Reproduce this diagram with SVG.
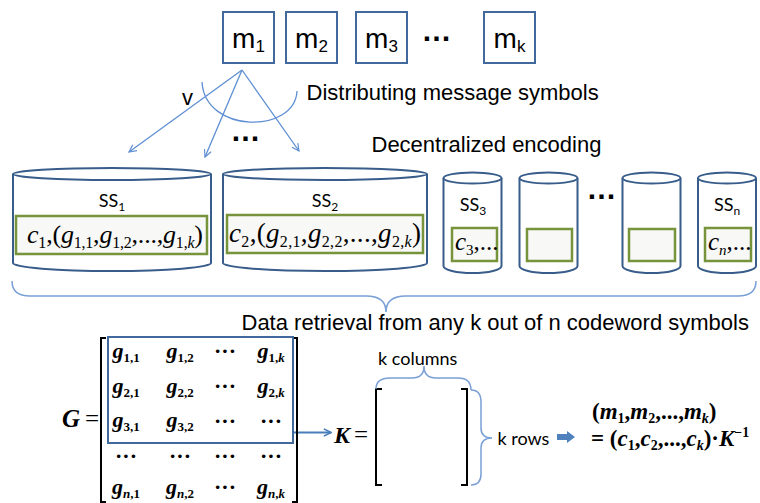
<svg xmlns="http://www.w3.org/2000/svg" width="760" height="503" viewBox="0 0 760 503">
  <style>
    .box { fill: #fff; stroke: #41699b; stroke-width: 2; }
    .cyl { fill: #fff; stroke: #385d8a; stroke-width: 2; }
    .slot { fill: #f8f8f6; stroke: #77933c; stroke-width: 2.5; }
    .link { fill: none; stroke: #5f8fd3; stroke-width: 1.3; }
    .brace { fill: none; stroke: #7aa0d6; stroke-width: 1.5; }
    .bracket { fill: none; stroke: #000; stroke-width: 2; }
    .sans { font-family: "Liberation Sans", Arial, sans-serif; fill: #000; }
    .cal { font-family: Lato, "Open Sans", sans-serif; fill: #000; }
    .math { font-family: "Liberation Serif", "Times New Roman", serif; fill: #000; }
    .it { font-style: italic; }
    .b { font-weight: bold; }
    .dots { font-family: "Liberation Sans", Arial, sans-serif; font-size: 30px; font-weight: bold; }
  </style>
  <defs>
    <marker id="open" viewBox="0 0 10 10" refX="9" refY="5" markerWidth="9" markerHeight="9" orient="auto" markerUnits="userSpaceOnUse">
      <path d="M1,1 L9,5 L1,9" fill="none" stroke="#5f8fd3" stroke-width="1.3"/>
    </marker>
    <marker id="openDark" viewBox="0 0 10 10" refX="9" refY="5" markerWidth="9" markerHeight="9" orient="auto" markerUnits="userSpaceOnUse">
      <path d="M1,1 L9,5 L1,9" fill="none" stroke="#4a7ebb" stroke-width="1.8"/>
    </marker>
  </defs>

  <!-- message symbols -->
  <g id="m1"><rect class="box" x="223" y="12" width="51" height="51"/>
    <text class="sans" x="248.5" y="48" font-size="28" text-anchor="middle">m<tspan font-size="17" dy="4">1</tspan></text></g>
  <g id="m2"><rect class="box" x="286" y="12" width="51" height="51"/>
    <text class="sans" x="311.5" y="48" font-size="28" text-anchor="middle">m<tspan font-size="17" dy="4">2</tspan></text></g>
  <g id="m3"><rect class="box" x="356" y="12" width="51" height="51"/>
    <text class="sans" x="381.5" y="48" font-size="28" text-anchor="middle">m<tspan font-size="17" dy="4">3</tspan></text></g>
  <text class="dots" x="421.6" y="40.5">…</text>
  <g id="mk"><rect class="box" x="484" y="12" width="51" height="51"/>
    <text class="sans" x="509.5" y="48" font-size="28" text-anchor="middle">m<tspan font-size="17" dy="4">k</tspan></text></g>

  <text class="sans" x="306.5" y="100" font-size="22">Distributing message symbols</text>
  <text class="sans" x="371.5" y="152" font-size="22">Decentralized encoding</text>
  <text class="sans" x="182" y="105" font-size="22">v</text>
  <text class="dots" x="230.5" y="141">…</text>

  <!-- distribution connectors -->
  <g id="connectors">
    <path class="link" d="M202,82 C205,134 295,134 297,91"/>
    <line class="link" x1="242" y1="70" x2="129" y2="152" marker-end="url(#open)"/>
    <line class="link" x1="242" y1="70" x2="205" y2="157" marker-end="url(#open)"/>
    <line class="link" x1="242" y1="70" x2="299" y2="151" marker-end="url(#open)"/>
    <line x1="293" y1="432.5" x2="331" y2="432.5" fill="none" stroke="#4a7ebb" stroke-width="2" marker-end="url(#openDark)"/>
  </g>

  <!-- storage servers -->
  <g id="ss1">
    <path class="cyl" d="M13,174 V263 A99,8 0 0 0 211,263 V174"/>
    <ellipse class="cyl" cx="112" cy="174" rx="99" ry="6"/>
    <text class="cal" x="112" y="207" font-size="18" text-anchor="middle">SS<tspan font-size="12" dy="4">1</tspan></text>
    <rect class="slot" x="16" y="216" width="191" height="38"/>
    <text class="math" x="27" y="243" font-size="26" textLength="176" lengthAdjust="spacing"><tspan class="it">c</tspan><tspan font-size="16" dy="5">1</tspan><tspan dy="-5">,(</tspan><tspan class="it">g</tspan><tspan font-size="16" dy="5">1,1</tspan><tspan dy="-5">,</tspan><tspan class="it">g</tspan><tspan font-size="16" dy="5">1,2</tspan><tspan dy="-5">,...,</tspan><tspan class="it">g</tspan><tspan font-size="16" dy="5">1,</tspan><tspan font-size="16" class="it">k</tspan><tspan dy="-5">)</tspan></text>
  </g>
  <g id="ss2">
    <path class="cyl" d="M223,174 V263 A102,8 0 0 0 427,263 V174"/>
    <ellipse class="cyl" cx="325" cy="174" rx="102" ry="6"/>
    <text class="cal" x="325" y="207" font-size="18" text-anchor="middle">SS<tspan font-size="12" dy="4">2</tspan></text>
    <rect class="slot" x="227" y="215" width="196" height="38"/>
    <text class="math" x="229" y="242" font-size="27" textLength="192" lengthAdjust="spacing"><tspan class="it">c</tspan><tspan font-size="16" dy="5">2</tspan><tspan dy="-5">,(</tspan><tspan class="it">g</tspan><tspan font-size="16" dy="5">2,1</tspan><tspan dy="-5">,</tspan><tspan class="it">g</tspan><tspan font-size="16" dy="5">2,2</tspan><tspan dy="-5">,...,</tspan><tspan class="it">g</tspan><tspan font-size="16" dy="5">2,</tspan><tspan font-size="16" class="it">k</tspan><tspan dy="-5">)</tspan></text>
  </g>
  <g id="ss3">
    <path class="cyl" d="M443.5,178 V266 A29,7 0 0 0 501.5,266 V178"/>
    <ellipse class="cyl" cx="472.5" cy="178" rx="29" ry="5.5"/>
    <text class="cal" x="473" y="211" font-size="18" text-anchor="middle">SS<tspan font-size="12" dy="4">3</tspan></text>
    <rect class="slot" x="452" y="228" width="45" height="33"/>
    <text class="math" x="455" y="250" font-size="25"><tspan class="it">c</tspan><tspan font-size="15" dy="5">3</tspan><tspan dy="-5">,...</tspan></text>
  </g>
  <g id="ss4">
    <path class="cyl" d="M519.5,178 V266 A29,7 0 0 0 577.5,266 V178"/>
    <ellipse class="cyl" cx="548.5" cy="178" rx="29" ry="5.5"/>
    <rect class="slot" x="527" y="229" width="45" height="32"/>
  </g>
  <text class="dots" x="586.5" y="199">…</text>
  <g id="ss5">
    <path class="cyl" d="M622.5,178 V266 A29,7 0 0 0 680.5,266 V178"/>
    <ellipse class="cyl" cx="651.5" cy="178" rx="29" ry="5.5"/>
    <rect class="slot" x="629" y="229" width="46" height="32"/>
  </g>
  <g id="ssn">
    <path class="cyl" d="M698,178 V266 A29,7 0 0 0 756,266 V178"/>
    <ellipse class="cyl" cx="727" cy="178" rx="29" ry="5.5"/>
    <text class="cal" x="727" y="211" font-size="18" text-anchor="middle">SS<tspan font-size="12" dy="4">n</tspan></text>
    <rect class="slot" x="705" y="228" width="46" height="33"/>
    <text class="math" x="708" y="250" font-size="25"><tspan class="it">c</tspan><tspan font-size="15" class="it" dy="5">n</tspan><tspan dy="-5">,...</tspan></text>
  </g>

  <!-- retrieval brace -->
  <path class="brace" d="M12,281 Q12,296 30,296 L366,296 Q386,296 386,312 Q386,296 406,296 L738,296 Q756,296 756,281"/>
  <text class="sans" x="241.5" y="330" font-size="22">Data retrieval from any k out of n codeword symbols</text>

  <!-- generator matrix -->
  <g id="matrix-g">
    <text class="math b it" x="62" y="427" font-size="25">G</text>
    <text class="math" x="85" y="427" font-size="25">=</text>
    <path class="bracket" d="M106,338 H101 V502 H106"/>
    <path class="bracket" d="M292,338 H297 V502 H292"/>
    <rect x="108" y="337" width="185" height="106" fill="none" stroke="#41699b" stroke-width="2"/>
    <g class="math b" font-size="22" text-anchor="middle">
      <text x="126" y="358"><tspan class="it">g</tspan><tspan font-size="13" dy="4">1,1</tspan></text>
      <text x="180" y="358"><tspan class="it">g</tspan><tspan font-size="13" dy="4">1,2</tspan></text>
      <text x="225" y="358">···</text>
      <text x="271" y="358"><tspan class="it">g</tspan><tspan font-size="13" dy="4">1,</tspan><tspan font-size="13" class="it">k</tspan></text>
      <text x="126" y="393"><tspan class="it">g</tspan><tspan font-size="13" dy="4">2,1</tspan></text>
      <text x="180" y="393"><tspan class="it">g</tspan><tspan font-size="13" dy="4">2,2</tspan></text>
      <text x="225" y="393">···</text>
      <text x="271" y="393"><tspan class="it">g</tspan><tspan font-size="13" dy="4">2,</tspan><tspan font-size="13" class="it">k</tspan></text>
      <text x="126" y="427"><tspan class="it">g</tspan><tspan font-size="13" dy="4">3,1</tspan></text>
      <text x="180" y="427"><tspan class="it">g</tspan><tspan font-size="13" dy="4">3,2</tspan></text>
      <text x="225" y="428">···</text>
      <text x="271" y="428">···</text>
      <text x="126" y="463">···</text>
      <text x="180" y="463">···</text>
      <text x="225" y="463">···</text>
      <text x="271" y="463">···</text>
      <text x="126" y="494"><tspan class="it">g</tspan><tspan font-size="13" class="it" dy="4">n</tspan><tspan font-size="13">,1</tspan></text>
      <text x="180" y="494"><tspan class="it">g</tspan><tspan font-size="13" class="it" dy="4">n</tspan><tspan font-size="13">,2</tspan></text>
      <text x="225" y="494">···</text>
      <text x="271" y="494"><tspan class="it">g</tspan><tspan font-size="13" class="it" dy="4">n</tspan><tspan font-size="13">,</tspan><tspan font-size="13" class="it">k</tspan></text>
    </g>
  </g>

  <!-- selected k x k submatrix -->
  <g id="matrix-k">
    <text class="math b it" x="334" y="443" font-size="24">K</text>
    <text class="math" x="354" y="443" font-size="25">=</text>
    <path class="bracket" d="M382,389 H376 V485 H382"/>
    <path class="bracket" d="M461,389 H467 V485 H461"/>
    <path class="brace" d="M376,389 Q376,378 390,378 L412,378 Q424,378 424,366 Q424,378 436,378 L458,378 Q471,378 471,390"/>
    <path class="brace" d="M471,390 Q481,390 481,402 L481,428 Q481,438 492,438 Q481,438 481,448 L481,474 Q481,485 471,485"/>
    <text class="cal" x="378" y="365" font-size="18">k columns</text>
    <text class="cal" x="497.5" y="445" font-size="18">k rows</text>
  </g>

  <!-- decoding result -->
  <g id="decode">
    <path d="M557,434 H567 V431 L575,437 L567,443 V440 H557 Z" fill="#4f81bd"/>
    <text class="math b" x="592" y="419" font-size="23">(<tspan class="it">m</tspan><tspan font-size="14" dy="4">1</tspan><tspan dy="-4">,</tspan><tspan class="it">m</tspan><tspan font-size="14" dy="4">2</tspan><tspan dy="-4">,...,</tspan><tspan class="it">m</tspan><tspan font-size="14" class="it" dy="4">k</tspan><tspan dy="-4">)</tspan></text>
    <text class="math b" x="591" y="446" font-size="23">= (<tspan class="it">c</tspan><tspan font-size="14" dy="4">1</tspan><tspan dy="-4">,</tspan><tspan class="it">c</tspan><tspan font-size="14" dy="4">2</tspan><tspan dy="-4">,...,</tspan><tspan class="it">c</tspan><tspan font-size="14" class="it" dy="4">k</tspan><tspan dy="-4">)·</tspan><tspan class="it">K</tspan><tspan font-size="14" dy="-9">−1</tspan></text>
  </g>
</svg>
